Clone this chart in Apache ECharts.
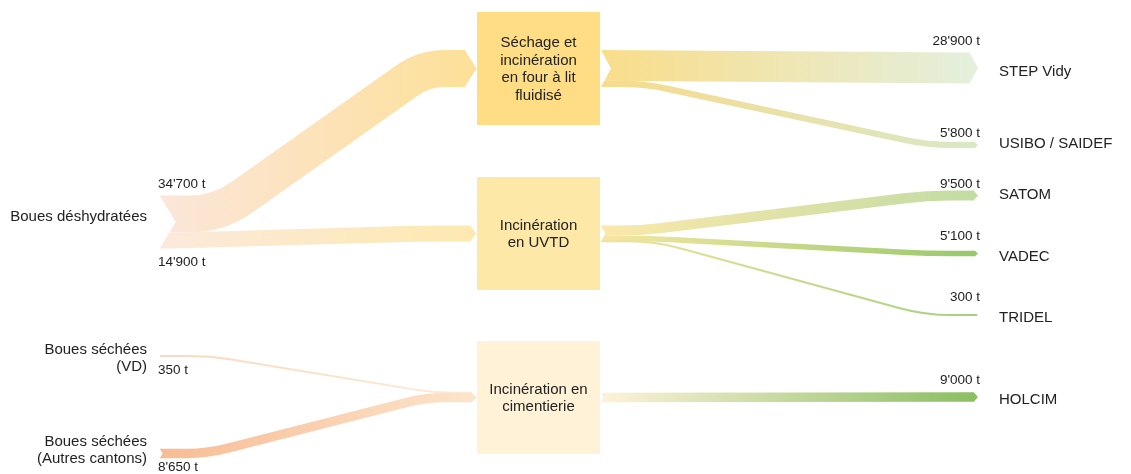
<!DOCTYPE html>
<html><head><meta charset="utf-8">
<script src="https://cdn.jsdelivr.net/npm/echarts@6/dist/echarts.min.js"></script>
<style>html,body{margin:0;padding:0;background:#fff}#c{width:1131px;height:474px}</style>
</head><body><div id="c"></div>
<script>
// ---------------- DATA ----------------
const sourceNames = ['Boues déshydratées', 'Boues séchées\n(VD)', 'Boues séchées\n(Autres cantons)'];
const processNames = ['Séchage et\nincinération\nen four à lit\nfluidisé', 'Incinération\nen UVTD', 'Incinération en\ncimentierie'];
const destinationNames = ['STEP Vidy', 'USIBO / SAIDEF', 'SATOM', 'VADEC', 'TRIDEL', 'HOLCIM'];
const inflowFrom = [0, 0, 1, 2];
const inflowTo = [0, 1, 2, 2];
const inflowTonnes = [34700, 14900, 350, 8650];
const outflowFrom = [0, 0, 1, 1, 1, 2];
const outflowTo = [0, 1, 2, 3, 4, 5];
const outflowTonnes = [28900, 5800, 9500, 5100, 300, 9000];

// ---------------- LAYOUT / STYLE ----------------
const W = 1131, H = 474;
const UNITS_PER_TONNE = 1.07 / 1000;
const MIN_W = 2;
const SRC_X = 160;
const BOX_X0 = 477, BOX_X1 = 600, BOX_HALF_H = 56.5;
const DST_TIP_X = 978;
const srcCY = [222, 356, 453.5];
const boxCY = [68.5, 233.5, 397.5];
const dstCY = [68, 145, 195.5, 253.5, 315, 397];
const inRoute = [[218, 424, 45], [175, 420, 60], [210, 435, 20], [207, 425, 20]];
const outRoute = [[601, 970, 0], [645, 928, 30], [640, 927, 30], [650, 927, 30], [655, 925, 30], [601, 970, 0]];
const inColors = [['#FBE6DA', '#FDE09A'], ['#FCE9DC', '#FDE9B0'], ['#FAD8C0', '#FEEAD4'], ['#F7BC94', '#FDE4CA']];
const outColors = [['#F9DD8A', '#E4EFDC'], ['#F7DB8C', '#DAE8C6'], ['#FBE8AA', '#C2DCA4'], ['#F6E7A3', '#97C96C'], ['#EFE39A', '#A2D17E'], ['#FEF2DA', '#8BBE63']];
const boxColors = ['#FEDD84', '#FEE8A8', '#FFF2D6'];
const srcLabelY = [217, 358.5, 450.5];
const inValueLabelY = [184, 262, 370, 467];
const outValueLabelY = [41.5, 133, 184.5, 236.5, 297, 380];
const dstLabelY = [71.5, 143.5, 195, 256.5, 318, 400];
const TEXT = '#222';
const FONT = '"Liberation Sans", Arial, sans-serif';

const fmt = v => String(v).replace(/\B(?=(\d{3})+(?!\d))/g, "'") + ' t';
const sumBy = (vals, keys, k) => vals.reduce((a, v, i) => a + (keys[i] === k ? v : 0), 0);

// ---------------- GEOMETRY (data units) ----------------
const srcTot = sourceNames.map((_, s) => sumBy(inflowTonnes, inflowFrom, s) * UNITS_PER_TONNE);
const boxInTot = processNames.map((_, b) => sumBy(inflowTonnes, inflowTo, b) * UNITS_PER_TONNE);
const boxOutTot = processNames.map((_, b) => sumBy(outflowTonnes, outflowFrom, b) * UNITS_PER_TONNE);
const arrowDepth = t => Math.min(11.5, 2 + t * 0.25);
const srcNotchDepth = t => Math.min(16, t * 0.3);
const boxNotchDepth = t => Math.min(10.5, t * 0.3);
const endDepth = t => Math.min(8, 1 + t * 0.3);

function route(xs, ys, xa, xb, xe, ye) {
  const p = [[xs, ys]];
  if (xa > xs) p.push([xa, ys]);
  if (xb < xe) p.push([xb, ye]);
  p.push([xe, ye]);
  return p;
}

const flows = [];
const srcCur = srcCY.map((c, s) => c - srcTot[s] / 2);
const boxInCur = boxCY.map((c, b) => c - boxInTot[b] / 2);
const boxOutCur = boxCY.map((c, b) => c - boxOutTot[b] / 2);
inflowTonnes.forEach((t, i) => {
  const s = inflowFrom[i], b = inflowTo[i], th = t * UNITS_PER_TONNE;
  const ys = srcCur[s] + th / 2; srcCur[s] += th;
  const ye = boxInCur[b] + th / 2; boxInCur[b] += th;
  const xe = BOX_X0 - 0.5 - arrowDepth(boxInTot[b]);
  flows.push({ th, pts: route(SRC_X, ys, inRoute[i][0], inRoute[i][1], xe, ye), r: inRoute[i][2], colors: inColors[i], x0: SRC_X, x1: xe });
});
outflowTonnes.forEach((t, i) => {
  const b = outflowFrom[i], d = outflowTo[i], th = t * UNITS_PER_TONNE;
  const ys = boxOutCur[b] + th / 2; boxOutCur[b] += th;
  const xs = BOX_X1 + 1;
  const xe = DST_TIP_X - endDepth(th);
  flows.push({ th, pts: route(xs, ys, outRoute[i][0], outRoute[i][1], xe, dstCY[d]), r: outRoute[i][2], colors: outColors[i], x0: xs, x1: xe, dst: d });
});

function roundedPath(pts, r) {
  let d = 'M' + pts[0][0] + ',' + pts[0][1];
  for (let i = 1; i < pts.length - 1; i++) {
    const p0 = pts[i - 1], p1 = pts[i], p2 = pts[i + 1];
    const l1 = Math.hypot(p1[0] - p0[0], p1[1] - p0[1]), l2 = Math.hypot(p2[0] - p1[0], p2[1] - p1[1]);
    const rr = Math.min(r, l1 / 2, l2 / 2);
    const a = [p1[0] - (p1[0] - p0[0]) / l1 * rr, p1[1] - (p1[1] - p0[1]) / l1 * rr];
    const b = [p1[0] + (p2[0] - p1[0]) / l2 * rr, p1[1] + (p2[1] - p1[1]) / l2 * rr];
    d += ' L' + a[0] + ',' + a[1] + ' Q' + p1[0] + ',' + p1[1] + ' ' + b[0] + ',' + b[1];
  }
  const pl = pts[pts.length - 1];
  d += ' L' + pl[0] + ',' + pl[1];
  return d;
}

const chart = echarts.init(document.getElementById('c'), null, { renderer: 'canvas' });
const idx = n => Array.from({ length: n }, (_, i) => [i, 0]);
const base = { type: 'custom', coordinateSystem: 'cartesian2d', silent: true, clip: false, animation: false };

chart.setOption({
  backgroundColor: '#fff',
  animation: false,
  grid: { left: 0, right: 0, top: 0, bottom: 0 },
  xAxis: { type: 'value', min: 0, max: W, show: false },
  yAxis: { type: 'value', min: 0, max: H, inverse: true, show: false },
  series: [
    // flows
    Object.assign({}, base, {
      data: idx(flows.length),
      renderItem: (p, api) => {
        const f = flows[api.value(0)];
        const unit = api.size([0, 1])[1];
        const pts = f.pts.map(q => api.coord(q));
        const th = Math.max(MIN_W, f.th * unit);
        const gx0 = api.coord([f.x0, 0])[0], gx1 = api.coord([f.x1, 0])[0];
        const children = [{
          type: 'path', shape: { pathData: roundedPath(pts, f.r) },
          style: { fill: 'none', stroke: { type: 'linear', x: gx0, y: 0, x2: gx1, y2: 0, global: true, colorStops: [{ offset: 0, color: f.colors[0] }, { offset: 1, color: f.colors[1] }] }, lineWidth: th, lineCap: 'butt', lineJoin: 'round' }
        }];
        if (f.dst !== undefined) {
          const e = pts[pts.length - 1], tip = api.coord([DST_TIP_X, 0])[0];
          children.push({ type: 'polygon', shape: { points: [[e[0] - 0.5, e[1] - th / 2], [tip, e[1]], [e[0] - 0.5, e[1] + th / 2]] }, style: { fill: f.colors[1] } });
        }
        return { type: 'group', children };
      }
    }),
    // arrows into boxes, notches
    Object.assign({}, base, {
      data: idx(processNames.length),
      renderItem: (p, api) => {
        const b = api.value(0);
        const unit = api.size([0, 1])[1];
        const cy = api.coord([0, boxCY[b]])[1];
        const tin = boxInTot[b] * unit, tout = boxOutTot[b] * unit;
        const xTip = api.coord([BOX_X0 - 0.5, 0])[0];
        const xa = xTip - arrowDepth(boxInTot[b]) * unit;
        let best = -1, bi = 0;
        inflowTonnes.forEach((t, i) => { if (inflowTo[i] === b && t > best) { best = t; bi = i; } });
        const xr = api.coord([BOX_X1 + 0.5, 0])[0];
        const nd = boxNotchDepth(boxOutTot[b]) * unit;
        return { type: 'group', children: [
          { type: 'polygon', shape: { points: [[xa - 0.5, cy - tin / 2], [xTip, cy], [xa - 0.5, cy + tin / 2]] }, style: { fill: inColors[bi][1] } },
          { type: 'polygon', shape: { points: [[xr, cy - tout / 2 - 1], [xr + nd, cy], [xr, cy + tout / 2 + 1]] }, style: { fill: '#fff' } }
        ] };
      }
    }),
    // source notches
    Object.assign({}, base, {
      data: idx(sourceNames.length),
      renderItem: (p, api) => {
        const s = api.value(0);
        const unit = api.size([0, 1])[1];
        const cy = api.coord([0, srcCY[s]])[1];
        const t = srcTot[s] * unit;
        const x = api.coord([SRC_X, 0])[0];
        const nd = srcNotchDepth(srcTot[s]) * unit;
        return { type: 'polygon', shape: { points: [[x - 1, cy - t / 2 - 1], [x + nd, cy], [x - 1, cy + t / 2 + 1]] }, style: { fill: '#fff' } };
      }
    }),
    // boxes
    Object.assign({}, base, {
      data: idx(processNames.length),
      renderItem: (p, api) => {
        const b = api.value(0);
        const tl = api.coord([BOX_X0, boxCY[b] - BOX_HALF_H]);
        const br = api.coord([BOX_X1, boxCY[b] + BOX_HALF_H]);
        return { type: 'group', children: [
          { type: 'rect', shape: { x: tl[0], y: tl[1], width: br[0] - tl[0], height: br[1] - tl[1] }, style: { fill: boxColors[b] } },
          { type: 'text', x: (tl[0] + br[0]) / 2, y: (tl[1] + br[1]) / 2 + 1, style: { text: processNames[b], fill: TEXT, fontSize: 15, fontFamily: FONT, align: 'center', verticalAlign: 'middle', lineHeight: 17.7 } }
        ] };
      }
    }),
    // source labels
    Object.assign({}, base, {
      data: idx(sourceNames.length),
      renderItem: (p, api) => {
        const s = api.value(0);
        const pt = api.coord([SRC_X - 13, srcLabelY[s]]);
        return { type: 'text', x: pt[0], y: pt[1], style: { text: sourceNames[s], fill: TEXT, fontSize: 15, fontFamily: FONT, align: 'right', verticalAlign: 'middle', lineHeight: 17 } };
      }
    }),
    // inflow value labels
    Object.assign({}, base, {
      data: idx(inflowTonnes.length),
      renderItem: (p, api) => {
        const i = api.value(0);
        const pt = api.coord([SRC_X - 2, inValueLabelY[i]]);
        return { type: 'text', x: pt[0], y: pt[1], style: { text: fmt(inflowTonnes[i]), fill: TEXT, fontSize: 13.5, fontFamily: FONT, align: 'left', verticalAlign: 'middle' } };
      }
    }),
    // outflow value labels + destination names
    Object.assign({}, base, {
      data: idx(outflowTonnes.length),
      renderItem: (p, api) => {
        const i = api.value(0), d = outflowTo[i];
        const pv = api.coord([DST_TIP_X + 2, outValueLabelY[i]]);
        const pn = api.coord([DST_TIP_X + 21, dstLabelY[d]]);
        return { type: 'group', children: [
          { type: 'text', x: pv[0], y: pv[1], style: { text: fmt(outflowTonnes[i]), fill: TEXT, fontSize: 13.5, fontFamily: FONT, align: 'right', verticalAlign: 'middle' } },
          { type: 'text', x: pn[0], y: pn[1], style: { text: destinationNames[d], fill: TEXT, fontSize: 15, fontFamily: FONT, align: 'left', verticalAlign: 'middle' } }
        ] };
      }
    })
  ]
});
</script>
</body></html>
